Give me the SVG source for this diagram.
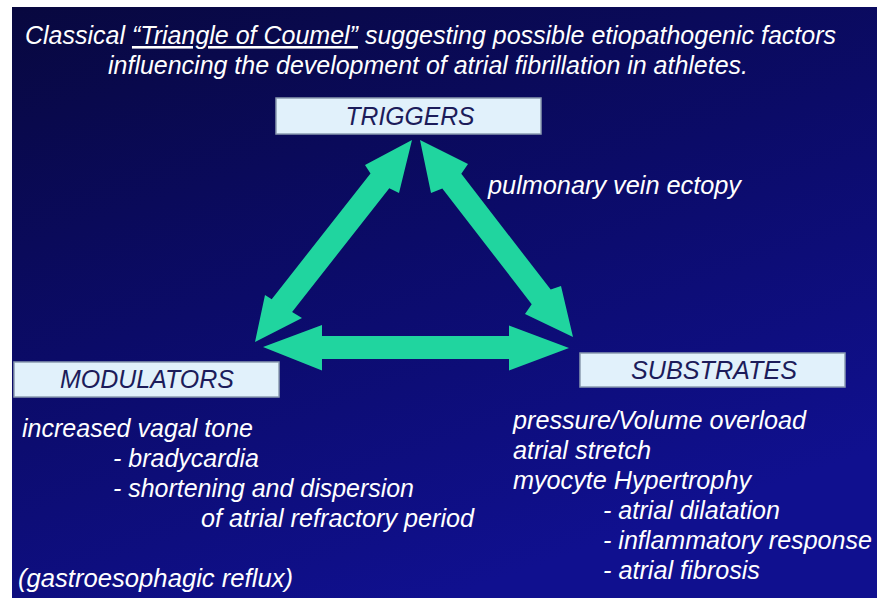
<svg xmlns="http://www.w3.org/2000/svg" width="886" height="598" viewBox="0 0 886 598">
<defs>
<linearGradient id="bg" x1="0" y1="0" x2="0.5" y2="1">
<stop offset="0" stop-color="#08083f"/>
<stop offset="0.5" stop-color="#0b0b68"/>
<stop offset="1" stop-color="#10108f"/>
</linearGradient>
<style>
.t{font-family:"Liberation Sans",Arial,sans-serif;font-style:italic;fill:#ffffff;font-size:26px}
.box{fill:#e1f1fb;stroke:#8a9bb0;stroke-width:1.5}
.bt{font-family:"Liberation Sans",Arial,sans-serif;font-style:italic;fill:#1c1c5a;font-size:25px;text-anchor:middle}
.arr{fill:#20d59f}
</style>
</defs>
<rect x="0" y="0" width="886" height="598" fill="#ffffff"/>
<rect x="12" y="7" width="865" height="591" fill="url(#bg)"/>
<g id="title">
<text class="t" x="25" y="44" textLength="811" lengthAdjust="spacingAndGlyphs">Classical <tspan text-decoration="underline">“Triangle of Coumel”</tspan> suggesting possible etiopathogenic factors</text>
<text class="t" x="108" y="74" textLength="640" lengthAdjust="spacingAndGlyphs">influencing the development of atrial fibrillation in athletes.</text>
</g>
<g id="connectors">
<polygon class="arr" points="255,342 302,318 292.1,311.9 389.3,188.3 399,193 412,140 365,165 370.5,173.5 271.7,299.2 265,295"/>
<polygon class="arr" points="420,140 431,193 442.3,188.4 531.7,304.2 525,314 573,337 561,286 550.7,289.6 461.3,173.8 468,164"/>
<polygon class="arr" points="263,347 322,370.5 322,359 509,359 509,370.5 569,348 509,325.5 509,336 322,336 322,325"/>
</g>
<g id="triggers">
<rect class="box" x="276" y="98" width="265" height="36"/>
<text class="bt" x="410" y="125" textLength="129" lengthAdjust="spacingAndGlyphs">TRIGGERS</text>
</g>
<g id="modulators">
<rect class="box" x="14" y="362" width="265" height="35"/>
<text class="bt" x="147" y="388" textLength="174" lengthAdjust="spacingAndGlyphs">MODULATORS</text>
</g>
<g id="substrates">
<rect class="box" x="580" y="353" width="265" height="34"/>
<text class="bt" x="714" y="379" textLength="166" lengthAdjust="spacingAndGlyphs">SUBSTRATES</text>
</g>
<g id="trigger-note">
<text class="t" x="488" y="194" textLength="253" lengthAdjust="spacingAndGlyphs">pulmonary vein ectopy</text>
</g>
<g id="modulator-notes">
<text class="t" x="22" y="437" textLength="231" lengthAdjust="spacingAndGlyphs">increased vagal tone</text>
<text class="t" x="113" y="467" textLength="146" lengthAdjust="spacingAndGlyphs">- bradycardia</text>
<text class="t" x="113" y="497" textLength="301" lengthAdjust="spacingAndGlyphs">- shortening and dispersion</text>
<text class="t" x="201" y="527" textLength="273" lengthAdjust="spacingAndGlyphs">of atrial refractory period</text>
<text class="t" x="18" y="587" textLength="275" lengthAdjust="spacingAndGlyphs">(gastroesophagic reflux)</text>
</g>
<g id="substrate-notes">
<text class="t" x="513" y="429" textLength="293" lengthAdjust="spacingAndGlyphs">pressure/Volume overload</text>
<text class="t" x="513" y="459" textLength="138" lengthAdjust="spacingAndGlyphs">atrial stretch</text>
<text class="t" x="513" y="489" textLength="238" lengthAdjust="spacingAndGlyphs">myocyte Hypertrophy</text>
<text class="t" x="603" y="519" textLength="177" lengthAdjust="spacingAndGlyphs">- atrial dilatation</text>
<text class="t" x="603" y="549" textLength="269" lengthAdjust="spacingAndGlyphs">- inflammatory response</text>
<text class="t" x="603" y="579" textLength="157" lengthAdjust="spacingAndGlyphs">- atrial fibrosis</text>
</g>
</svg>
